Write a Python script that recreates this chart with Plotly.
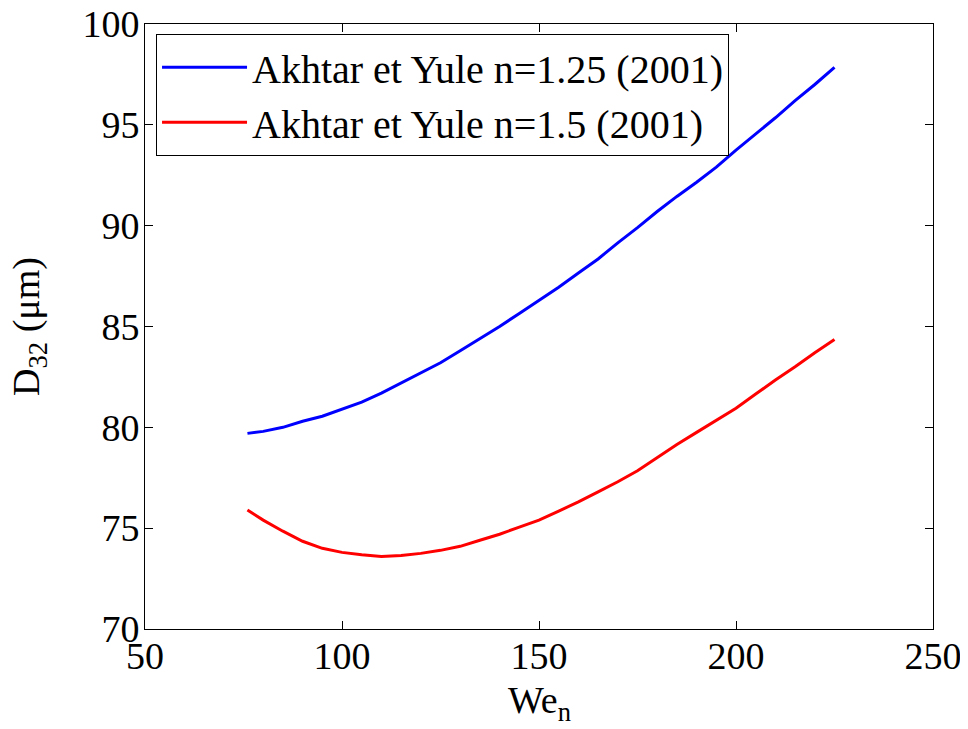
import plotly.graph_objects as go

we = [76, 80, 85, 90, 95, 100, 105, 110, 115, 120, 125, 130, 135, 140, 145, 150,
      155, 160, 165, 170, 175, 180, 185, 190, 195, 200, 205, 210, 215, 220, 225]
d32_n125 = [79.70, 79.80, 80.00, 80.30, 80.55, 80.90, 81.25, 81.70, 82.20, 82.70,
            83.20, 83.80, 84.40, 85.00, 85.65, 86.30, 86.95, 87.65, 88.35, 89.15,
            89.90, 90.70, 91.45, 92.15, 92.90, 93.75, 94.55, 95.35, 96.20, 97.00, 97.85]
d32_n150 = [75.90, 75.40, 74.85, 74.35, 74.00, 73.80, 73.68, 73.60, 73.65, 73.75,
            73.90, 74.10, 74.40, 74.70, 75.05, 75.40, 75.85, 76.30, 76.80, 77.30,
            77.85, 78.50, 79.15, 79.75, 80.35, 80.95, 81.65, 82.35, 83.00, 83.70, 84.35]
names = ["Akhtar et Yule n=1.25 (2001)", "Akhtar et Yule n=1.5 (2001)"]
x_ticks = [50, 100, 150, 200, 250]
y_ticks = [70, 75, 80, 85, 90, 95, 100]
x_title = "We<sub>n</sub>"
y_title = "D<sub>32</sub> (μm)"

FONT = "'Liberation Serif', 'Times New Roman', serif"

fig = go.Figure()
fig.add_trace(go.Scatter(x=we, y=d32_n125, mode="lines", name=names[0],
                         line=dict(color="#0000ff", width=3)))
fig.add_trace(go.Scatter(x=we, y=d32_n150, mode="lines", name=names[1],
                         line=dict(color="#ff0000", width=3)))

axis_common = dict(showgrid=False, zeroline=False, showline=True, linecolor="black",
                   linewidth=1, mirror="ticks", ticks="inside", ticklen=8,
                   tickcolor="black", automargin=False, ticklabeloverflow="allow",
                   tickfont=dict(family=FONT, size=38, color="black"))

fig.update_layout(
    width=960, height=721,
    margin=dict(l=137, r=35, t=16, b=100),
    paper_bgcolor="white", plot_bgcolor="white",
    font=dict(family=FONT, size=38, color="black"),
    xaxis=dict(range=[50, 250], tickvals=x_ticks, ticktext=[str(v) for v in x_ticks],
               ticklabelstandoff=-7, **axis_common),
    yaxis=dict(range=[70, 100], tickvals=y_ticks, ticktext=[str(v) for v in y_ticks],
               ticklabelstandoff=-3, **axis_common),
    legend=dict(x=0.014, y=0.984, xanchor="left", yanchor="top",
                bordercolor="black", borderwidth=1, bgcolor="white",
                font=dict(family=FONT, size=40, color="black"),
                itemwidth=85, tracegroupgap=0),
    showlegend=True,
    annotations=[
        dict(text=x_title, xref="paper", yref="paper", x=0.5, y=-0.079,
             xanchor="center", yanchor="top", showarrow=False,
             font=dict(family=FONT, size=38, color="black")),
        dict(text=y_title, xref="paper", yref="paper", x=-0.148, y=0.5,
             xanchor="center", yanchor="middle", textangle=-90, showarrow=False,
             font=dict(family=FONT, size=38, color="black")),
    ],
)

fig.write_html("out.html")
